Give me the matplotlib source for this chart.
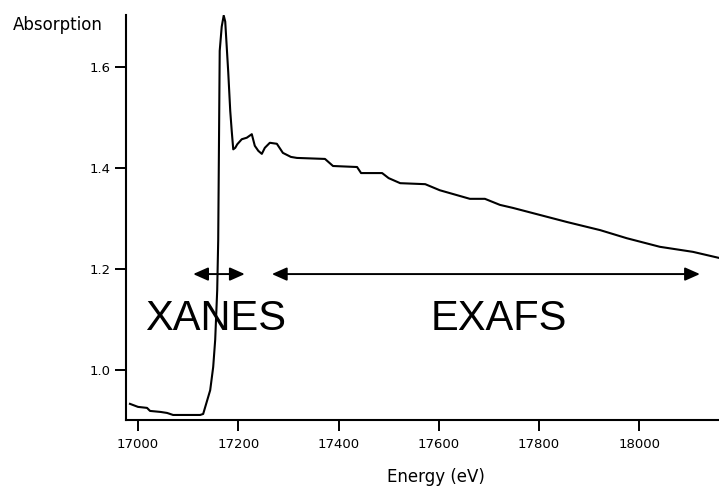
import matplotlib
matplotlib.use('Agg')
import matplotlib.pyplot as plt

# X-ray absorption spectrum
energy = [16984, 17000, 17018, 17024, 17045, 17058, 17070, 17124, 17130,
          17144, 17150, 17154, 17158, 17160, 17163, 17167, 17171, 17174,
          17177, 17180, 17184, 17187, 17190, 17194, 17198, 17207, 17217,
          17227, 17233, 17240, 17247, 17253, 17263, 17277, 17289, 17305,
          17317, 17373, 17389, 17437, 17445, 17487, 17500, 17523, 17573,
          17602, 17662, 17692, 17722, 17748, 17802, 17856, 17922, 17975,
          18041, 18107, 18159]
absorption = [0.933, 0.927, 0.925, 0.919, 0.917, 0.915, 0.911, 0.911, 0.913,
              0.960, 1.006, 1.060, 1.158, 1.257, 1.632, 1.680, 1.702, 1.690,
              1.640, 1.590, 1.513, 1.473, 1.437, 1.440, 1.447, 1.457, 1.460,
              1.467, 1.444, 1.434, 1.428, 1.440, 1.450, 1.448, 1.430, 1.422,
              1.420, 1.418, 1.404, 1.402, 1.390, 1.390, 1.380, 1.370, 1.368,
              1.356, 1.339, 1.339, 1.327, 1.321, 1.307, 1.293, 1.277, 1.261,
              1.244, 1.234, 1.222]

x_ticks = [17000, 17200, 17400, 17600, 17800, 18000]
y_ticks = [1.0, 1.2, 1.4, 1.6]

regions = ['XANES', 'EXAFS']
region_start = [17110, 17267]
region_end = [17213, 18121]
region_label_x = [17154, 17720]
arrow_y = 1.19
label_y = 1.079

fig = plt.figure(figsize=(7.19, 4.97), dpi=100)
ax = fig.add_axes([0.1752, 0.1549, 0.8248, 0.8149])

ax.plot(energy, absorption, color='black', linewidth=1.5)

for name, x0, x1, xl in zip(regions, region_start, region_end, region_label_x):
    ax.annotate('', xy=(x1, arrow_y), xytext=(x0, arrow_y),
                arrowprops=dict(arrowstyle='<|-|>,head_length=0.9,head_width=0.4',
                                color='black', lw=1.4, mutation_scale=10,
                                shrinkA=0, shrinkB=0))
    ax.text(xl, label_y, name, ha='center', va='baseline',
            fontsize=30, family='Liberation Sans')

ax.set_xlim(16976, 18159)
ax.set_ylim(0.901, 1.703)
ax.set_xticks(x_ticks)
ax.set_yticks(y_ticks)
ax.set_xticklabels([str(v) for v in x_ticks])
ax.set_yticklabels([f'{v:.1f}' for v in y_ticks])

for s in ['top', 'right']:
    ax.spines[s].set_visible(False)
for s in ['left', 'bottom']:
    ax.spines[s].set_linewidth(1.5)

ax.tick_params(axis='x', direction='out', length=8, width=1.4, pad=5, labelsize=9.5)
ax.tick_params(axis='y', direction='out', length=8, width=1.4, pad=3, labelsize=9.5)

fig.text(0.0181, 0.950, 'Absorption', fontsize=12, ha='left', va='center')
fig.text(0.607, 0.030, 'Energy (eV)', fontsize=12, ha='center', va='baseline')

fig.savefig('out.png', dpi=100)
